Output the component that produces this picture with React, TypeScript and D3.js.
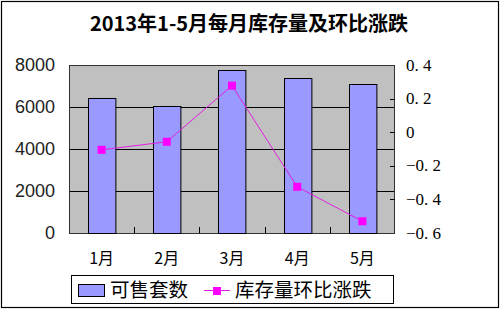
import React, { useRef, useEffect } from "react";
import * as d3 from "d3";

const months = ["1月", "2月", "3月", "4月", "5月"];
const salable = [6410, 6060, 7760, 7370, 7100];
const momChange = [-0.105, -0.057, 0.277, -0.325, -0.53];
const leftTicks = [0, 2000, 4000, 6000, 8000];
const rightTicks = [0.4, 0.2, 0, -0.2, -0.4, -0.6];

const title = "2013年1-5月每月库存量及环比涨跌";
const legendLabels = ["可售套数", "库存量环比涨跌"];

const W = 500;
const H = 310;
const plot = { left: 69, right: 395, top: 65, bottom: 233 };

const fmtRight = (v: number) => (v === 0 ? "0" : d3.format(".1f")(v).replace("-", "−").replace(".", ". "));

export default function App() {
  const ref = useRef<SVGSVGElement>(null);

  useEffect(() => {
    if (!ref.current) return;
    const svg = d3.select(ref.current);
    svg.selectAll("*").remove();

    const x = d3.scaleBand().domain(months).range([plot.left, plot.right]).paddingInner(0.58).paddingOuter(0.29);
    const xOuter = d3.scaleBand().domain(months).range([plot.left, plot.right]);
    const yL = d3.scaleLinear().domain([0, 8000]).range([plot.bottom, plot.top]);
    const yR = d3.scaleLinear().domain([-0.6, 0.4]).range([plot.bottom, plot.top]);

    // outer frame
    svg.append("rect").attr("x", 1.5).attr("y", 1.5).attr("width", W - 3).attr("height", H - 4)
      .attr("fill", "#fff").attr("stroke", "#000").attr("stroke-width", 1.2);

    svg.append("text").attr("x", 249).attr("y", 31).attr("text-anchor", "middle")
      .attr("font-family", "'Noto Sans CJK SC', sans-serif").attr("font-weight", "bold").attr("font-size", 20)
      .attr("fill", "#000").text(title);

    // plot area
    svg.append("rect").attr("x", plot.left).attr("y", plot.top)
      .attr("width", plot.right - plot.left).attr("height", plot.bottom - plot.top)
      .attr("fill", "#c0c0c0");

    svg.append("g").selectAll("line").data(leftTicks.filter(t => t > 0 && t < 8000)).join("line")
      .attr("x1", plot.left).attr("x2", plot.right)
      .attr("y1", d => Math.round(yL(d)) + 0.5).attr("y2", d => Math.round(yL(d)) + 0.5)
      .attr("stroke", "#000").attr("stroke-width", 1);

    svg.append("rect").attr("x", plot.left + 0.5).attr("y", plot.top + 0.5)
      .attr("width", plot.right - plot.left - 1).attr("height", plot.bottom - plot.top)
      .attr("fill", "none").attr("stroke", "#333").attr("stroke-width", 1);

    // x category ticks
    svg.append("g").selectAll("line").data(months.slice(1)).join("line")
      .attr("x1", d => Math.round(xOuter(d)!) + 0.5).attr("x2", d => Math.round(xOuter(d)!) + 0.5)
      .attr("y1", plot.bottom).attr("y2", plot.bottom - 6)
      .attr("stroke", "#000");

    // right axis ticks
    svg.append("g").selectAll("line").data(rightTicks.slice(1, -1)).join("line")
      .attr("x1", plot.right - 5).attr("x2", plot.right)
      .attr("y1", d => Math.round(yR(d)) + 0.5).attr("y2", d => Math.round(yR(d)) + 0.5)
      .attr("stroke", "#000");

    // bars
    svg.append("g").selectAll("rect").data(salable).join("rect")
      .attr("x", (d, i) => Math.round(x(months[i])!) + 0.5)
      .attr("y", d => Math.round(yL(d)) + 0.5)
      .attr("width", x.bandwidth())
      .attr("height", d => plot.bottom - Math.round(yL(d)))
      .attr("fill", "#9999ff").attr("stroke", "#000").attr("stroke-width", 1);

    // line
    const line = d3.line<number>()
      .x((d, i) => xOuter(months[i])! + xOuter.bandwidth() / 2)
      .y(d => yR(d));
    svg.append("path").attr("d", line(momChange)).attr("fill", "none")
      .attr("stroke", "#e020e0").attr("stroke-width", 1);
    svg.append("g").selectAll("rect").data(momChange).join("rect")
      .attr("x", (d, i) => xOuter(months[i])! + xOuter.bandwidth() / 2 - 4)
      .attr("y", d => yR(d) - 4)
      .attr("width", 8).attr("height", 8).attr("fill", "#ff00ff");

    // axis labels
    const sans = "'Liberation Sans', Arial, sans-serif";
    const serif = "'Liberation Serif', 'Times New Roman', 'DejaVu Serif', serif";
    svg.append("g").selectAll("text").data(leftTicks).join("text")
      .attr("x", 55).attr("y", d => yL(d) + 6).attr("text-anchor", "end")
      .attr("font-family", sans).attr("font-size", 18).attr("fill", "#222")
      .text(d => String(d));

    svg.append("g").selectAll("text").data(rightTicks).join("text")
      .attr("x", 406).attr("y", d => yR(d) + 5.5)
      .attr("font-family", serif).attr("font-size", 17).attr("fill", "#000")
      .text(d => fmtRight(d));

    svg.append("g").selectAll("text").data(months).join("text")
      .attr("x", d => xOuter(d)! + xOuter.bandwidth() / 2).attr("y", 264).attr("text-anchor", "middle")
      .attr("font-family", "'Noto Sans CJK SC', serif").attr("font-size", 16).attr("fill", "#000")
      .text(d => d);

    // legend
    const lg = svg.append("g");
    lg.append("rect").attr("x", 71.5).attr("y", 275.5).attr("width", 322).attr("height", 28)
      .attr("fill", "#fff").attr("stroke", "#000");
    lg.append("rect").attr("x", 78.5).attr("y", 284.5).attr("width", 26).attr("height", 12)
      .attr("fill", "#9999ff").attr("stroke", "#000");
    lg.append("text").attr("x", 110).attr("y", 297).attr("font-family", "'Noto Sans CJK SC', sans-serif")
      .attr("font-size", 19.5).attr("fill", "#000").text(legendLabels[0]);
    lg.append("line").attr("x1", 204).attr("x2", 230).attr("y1", 290.5).attr("y2", 290.5)
      .attr("stroke", "#e020e0");
    lg.append("rect").attr("x", 213).attr("y", 287).attr("width", 8).attr("height", 8).attr("fill", "#ff00ff");
    lg.append("text").attr("x", 235).attr("y", 297).attr("font-family", "'Noto Sans CJK SC', sans-serif")
      .attr("font-size", 19.5).attr("fill", "#000").text(legendLabels[1]);
  }, []);

  return (
    <svg ref={ref} width={W} height={H} style={{ position: "absolute", left: 0, top: 0, display: "block" }} />
  );
}
